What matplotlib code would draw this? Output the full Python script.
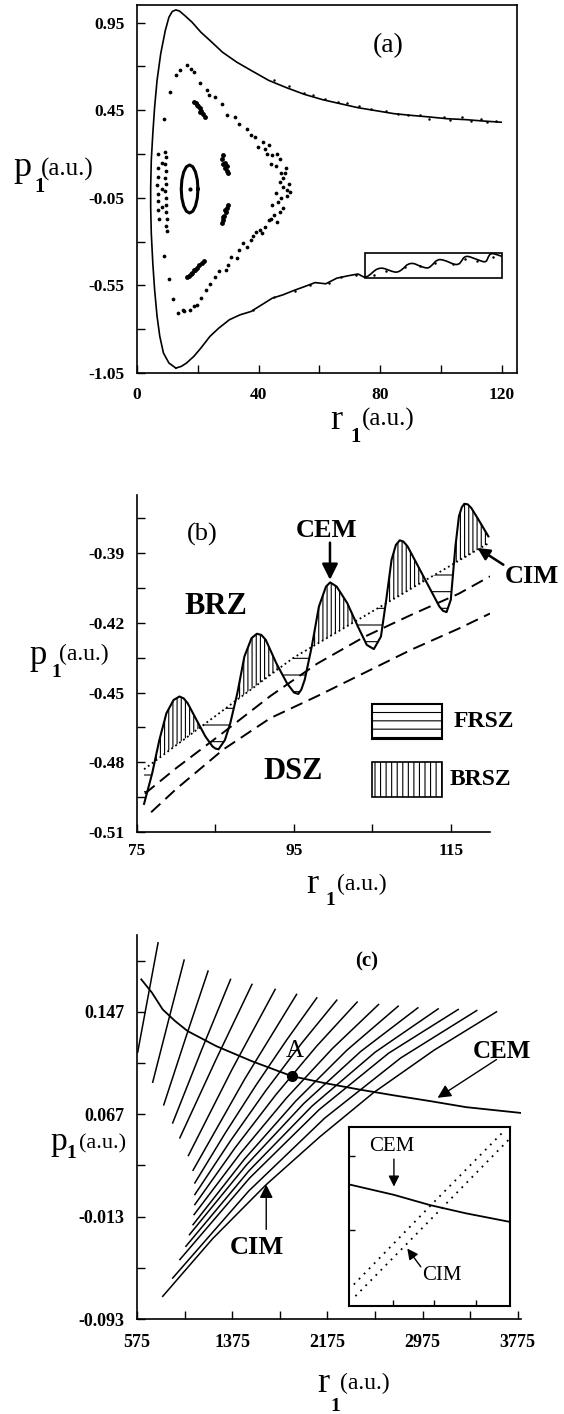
import numpy as np
import matplotlib
matplotlib.use('Agg')
import matplotlib.pyplot as plt
from matplotlib.patches import Rectangle

plt.rcParams['font.family'] = ['Liberation Serif', 'DejaVu Serif']
plt.rcParams['hatch.linewidth'] = 0.8

# ---------------- panel (a) ----------------
# outer separatrix: left side from bottom cusp up and over to the right end
a_up_r = [12.8, 10.5, 8.7, 7.5, 6.6, 5.8, 5.2, 4.7, 4.5, 4.5, 4.7, 5.2, 5.8, 6.6, 7.8, 9.3,
          10.5, 11.6, 12.8, 14.0, 15.7, 18.1, 21.0, 24.6, 28.1, 32.8, 37.5, 43.3, 49.2,
          55.1, 61.0, 66.8, 72.7, 78.6, 84.5, 90.3, 96.2, 102.1, 108.0, 113.8, 119.8]
a_up_p = [-1.022, -0.993, -0.936, -0.841, -0.727, -0.576, -0.424, -0.253, -0.101, 0.013,
          0.164, 0.316, 0.468, 0.620, 0.772, 0.904, 0.980, 1.013, 1.022, 1.015, 0.990,
          0.952, 0.895, 0.838, 0.781, 0.724, 0.677, 0.620, 0.578, 0.540, 0.510, 0.487,
          0.464, 0.447, 0.430, 0.420, 0.411, 0.401, 0.396, 0.388, 0.381]
# lower branch from the bottom cusp to the zoom box
a_low_r = [12.8, 14.6, 16.3, 18.7, 21.0, 24.0, 26.9, 30.4, 33.9, 37.5, 41.0, 44.5, 48.0,
           51.6, 55.1, 58.6, 62.1, 65.7, 69.2, 72.7, 74.8]
a_low_p = [-1.022, -1.012, -0.993, -0.955, -0.908, -0.841, -0.794, -0.746, -0.718, -0.699,
           -0.661, -0.623, -0.604, -0.579, -0.557, -0.534, -0.541, -0.509, -0.496, -0.485,
           -0.504]

# chaotic chain of points
a_chain_r = [16.3, 14.3, 12.8, 17.9, 18.9, 10.7, 20.7, 23.0, 23.7, 25.7, 28.1, 29.6, 32.2,
             33.4, 36.3, 37.5, 38.9, 39.8, 42.2, 42.8, 44.5, 44.0, 45.7, 47.5, 48.6, 46.9,
             49.2, 50.2, 48.1, 45.7, 46.3, 48.1, 44.5, 45.0, 43.4, 42.2, 40.4, 39.2, 37.5,
             36.3, 33.4, 32.8, 29.8, 29.3, 25.7, 22.8, 19.9, 18.7, 17.5, 15.5, 13.6, 12.0,
             10.5, 8.9, 8.9, 41.5, 43.5, 46.0, 47.0, 49.0, 48.0, 50.0, 47.5, 49.5, 47.0,
             44.0, 46.0, 41.0, 38.0, 35.0, 31.0, 27.0, 24.0, 21.0, 15.0]
a_chain_p = [0.709, 0.677, 0.648, 0.686, 0.667, 0.553, 0.605, 0.567, 0.538, 0.525, 0.483,
             0.420, 0.410, 0.373, 0.345, 0.307, 0.297, 0.240, 0.230, 0.199, 0.193, 0.145,
             0.130, 0.089, 0.089, 0.041, -0.006, -0.016, 0.013, -0.025, -0.073, -0.110,
             -0.092, -0.149, -0.177, -0.215, -0.234, -0.243, -0.291, -0.329, -0.348, -0.395,
             -0.433, -0.462, -0.500, -0.576, -0.661, -0.667, -0.690, -0.699, -0.708, -0.629,
             -0.515, -0.382, 0.402, 0.270, 0.250, 0.200, 0.170, 0.120, 0.060, 0.030, -0.050,
             -0.040, -0.130, -0.170, -0.190, -0.250, -0.270, -0.310, -0.390, -0.470, -0.540,
             -0.620, -0.690]
a_left_r = [6.8, 7.0, 6.9, 6.7, 6.9, 7.0, 6.8, 7.1, 9.1, 9.4, 9.2, 9.5, 9.3, 9.6, 9.2, 9.4,
            9.7, 9.5, 9.8, 9.6, 9.9, 8.2, 8.3, 8.1]
a_left_p = [0.20, 0.12, 0.07, 0.02, -0.03, -0.07, -0.12, -0.17, 0.21, 0.18, 0.14, 0.10, 0.06,
            0.03, -0.01, -0.05, -0.09, -0.13, -0.17, -0.21, -0.24, 0.15, 0.00, -0.10]
# small islands
a_isl_r = [18.7, 19.3, 20.0, 20.6, 21.2, 21.8, 22.4, 19.8, 20.8,
           28.3, 28.0, 28.4, 29.0, 29.6, 29.9, 29.0, 29.5,
           29.9, 29.6, 29.2, 28.7, 28.2, 27.8, 29.0, 28.4,
           16.4, 17.2, 18.0, 18.8, 19.6, 20.5, 21.4, 22.2, 17.6, 19.2]
a_isl_p = [0.497, 0.490, 0.475, 0.460, 0.445, 0.430, 0.410, 0.480, 0.440,
           0.195, 0.170, 0.145, 0.120, 0.100, 0.090, 0.150, 0.130,
           -0.090, -0.110, -0.130, -0.155, -0.175, -0.195, -0.120, -0.160,
           -0.500, -0.495, -0.480, -0.465, -0.450, -0.435, -0.420, -0.410, -0.485, -0.460]
# central elliptic orbit
a_ell_r = [20.05, 19.84, 19.24, 18.35, 17.30, 16.25, 15.36, 14.76, 14.55, 14.76, 15.36,
           16.25, 17.30, 18.35, 19.24, 19.84, 20.05]
a_ell_p = [0.000, 0.052, 0.097, 0.127, 0.137, 0.127, 0.097, 0.052, 0.000, -0.052, -0.097,
           -0.127, -0.137, -0.127, -0.097, -0.052, 0.000]
# scattered points along the separatrix
a_edge_r = [45, 50, 55, 58, 62, 66, 69, 73, 77, 82, 86, 89, 93, 96, 101, 103, 107, 110, 113,
            115, 118, 38, 45, 52, 57, 63, 67, 72, 78, 82, 88, 93, 98, 104, 108, 112, 117]
a_edge_p = [0.620, 0.585, 0.550, 0.535, 0.515, 0.497, 0.490, 0.475, 0.455, 0.445, 0.430,
            0.425, 0.420, 0.400, 0.410, 0.395, 0.410, 0.390, 0.400, 0.380, 0.390,
            -0.690, -0.615, -0.580, -0.545, -0.535, -0.505, -0.490, -0.490, -0.470, -0.445,
            -0.440, -0.425, -0.430, -0.400, -0.410, -0.390]

# ---------------- panel (b) ----------------
b_r = [75.90, 76.94, 77.85, 78.75, 79.66, 80.42, 80.95, 81.46, 82.59, 83.72, 84.63, 85.00,
       85.40, 86.21, 86.89, 87.79, 88.69, 89.60, 90.28, 90.85, 91.41, 92.76, 94.12, 95.02,
       95.56, 95.95, 96.38, 97.28, 98.19, 99.09, 99.63, 100.45, 101.80, 103.16, 104.29,
       105.19, 106.10, 106.77, 107.45, 108.00, 108.49, 108.95, 109.49, 110.84, 112.20,
       113.55, 114.00, 114.46, 115.00, 115.59, 116.04, 116.40, 116.72, 117.15, 117.62,
       118.53, 119.79]
b_cem = [-0.4979, -0.4847, -0.4704, -0.4589, -0.4532, -0.4517, -0.4525, -0.4546, -0.4618,
         -0.4689, -0.4732, -0.4741, -0.4744, -0.4704, -0.4632, -0.4503, -0.4345, -0.4266,
         -0.4247, -0.4252, -0.4273, -0.4374, -0.4460, -0.4500, -0.4506, -0.4487, -0.4445,
         -0.4302, -0.4130, -0.4044, -0.4026, -0.4044, -0.4115, -0.4216, -0.4295, -0.4313,
         -0.4259, -0.4101, -0.3929, -0.3865, -0.3845, -0.3850, -0.3871, -0.3957, -0.4044,
         -0.4130, -0.4148, -0.4154, -0.4101, -0.3871, -0.3742, -0.3703, -0.3688, -0.3690,
         -0.3706, -0.3756, -0.3828]
b_cim = [-0.4830, -0.4804, -0.4781, -0.4758, -0.4735, -0.4716, -0.4703, -0.4690, -0.4661,
         -0.4633, -0.4610, -0.4601, -0.4591, -0.4570, -0.4553, -0.4530, -0.4508, -0.4485,
         -0.4468, -0.4453, -0.4439, -0.4405, -0.4371, -0.4349, -0.4338, -0.4330, -0.4322,
         -0.4304, -0.4286, -0.4268, -0.4257, -0.4241, -0.4214, -0.4187, -0.4165, -0.4147,
         -0.4129, -0.4116, -0.4102, -0.4092, -0.4082, -0.4073, -0.4062, -0.4035, -0.4008,
         -0.3982, -0.3973, -0.3964, -0.3953, -0.3941, -0.3932, -0.3925, -0.3919, -0.3911,
         -0.3901, -0.3883, -0.3858]
b_dash1_r = [76.0, 80.0, 86.0, 92.0, 98.0, 104.0, 110.0, 116.0, 120.0]
b_dash1_p = [-0.4935, -0.4825, -0.4672, -0.4515, -0.4375, -0.4260, -0.4165, -0.4075, -0.4000]
b_dash2_r = [76.8, 80.0, 86.0, 92.0, 98.0, 104.0, 110.0, 116.0, 120.0]
b_dash2_p = [-0.5015, -0.4915, -0.4745, -0.4610, -0.4515, -0.4415, -0.4315, -0.4225, -0.4160]

# ---------------- panel (c) ----------------
c_lines = [
    ([581, 666.5, 752], [0.1155, 0.1582, 0.2009]),
    ([707, 839, 971], [0.0920, 0.1400, 0.1874]),
    ([800, 986, 1172], [0.0743, 0.1272, 0.1788]),
    ([875, 1118, 1361], [0.0602, 0.1172, 0.1723]),
    ([935, 1238, 1541], [0.0485, 0.1095, 0.1684]),
    ([1007, 1371.5, 1736], [0.0347, 0.1016, 0.1645]),
    ([1046, 1481, 1916], [0.0232, 0.0946, 0.1606]),
    ([1061, 1317.5, 1574, 1830.5, 2086], [0.0133, 0.0524, 0.0895, 0.1247, 0.1579]),
    ([1061, 1359.5, 1658, 1956.5, 2254], [0.0042, 0.0461, 0.0855, 0.1222, 0.1561]),
    ([1061, 1402, 1743.5, 2085, 2425], [-0.0036, 0.0411, 0.0824, 0.1202, 0.1546]),
    ([1055, 1442.75, 1830.5, 2218, 2605], [-0.0114, 0.0363, 0.0796, 0.1184, 0.1527]),
    ([1046, 1477, 1908.5, 2340, 2770], [-0.0193, 0.0318, 0.0772, 0.1171, 0.1514]),
    ([1016, 1496, 1976, 2456, 2935], [-0.0271, 0.0275, 0.0753, 0.1161, 0.1501]),
    ([986, 1516, 2046.5, 2577, 3106], [-0.0362, 0.0228, 0.0734, 0.1155, 0.1493]),
    ([935, 1520, 2105, 2690, 3274], [-0.0466, 0.0170, 0.0705, 0.1147, 0.1488]),
    ([875, 1514, 2153, 2792, 3430], [-0.0610, 0.0070, 0.0640, 0.1110, 0.1480]),
    ([791, 1211, 1661, 2111, 2561, 3071, 3596],
     [-0.0753, -0.0302, 0.0120, 0.0493, 0.0837, 0.1170, 0.1470]),
]
c_cem_r = [611, 701, 791, 896, 1001, 1241, 1541, 1877, 2141, 2441, 2741, 3041, 3341, 3800]
c_cem_p = [0.1723, 0.1619, 0.1488, 0.1397, 0.1319, 0.1202, 0.1084, 0.0967, 0.0915, 0.0863,
           0.0816, 0.0772, 0.0725, 0.0680]
c_point_a = (1877, 0.0967)
# inset (axes fractions)
ins_cem_x = [0.011, 0.279, 0.502, 0.725, 0.993]
ins_cem_y = [0.677, 0.621, 0.564, 0.518, 0.471]
ins_cim1_x = [0.030, 0.50, 0.971]
ins_cim1_y = [0.120, 0.555, 0.985]
ins_cim2_x = [0.040, 0.52, 0.993]
ins_cim2_y = [0.055, 0.495, 0.930]

W, H = 564, 1414
fig = plt.figure(figsize=(W / 100, H / 100), dpi=100)


def box(l, t, r, b):
    return [l / W, 1 - b / H, (r - l) / W, (b - t) / H]


def ftxt(px, py, s, **kw):
    fig.text(px / W, 1 - py / H, s, va='baseline', **kw)


def style(ax, xt, yt, xm, ym, xlab, ylab, size=12.5, xpad=9, full=False):
    ax.set_xticks(xt, labels=xlab, fontweight='bold', fontsize=size)
    ax.set_yticks(yt, labels=ylab, fontweight='bold', fontsize=size)
    ax.set_xticks(xm, minor=True)
    ax.set_yticks(ym, minor=True)
    ax.tick_params(which='both', direction='in', length=6, width=1)
    ax.tick_params(axis='x', pad=xpad)
    ax.tick_params(axis='y', pad=9)
    for s in ax.spines.values():
        s.set_linewidth(1.2)
    if not full:
        ax.spines['top'].set_visible(False)
        ax.spines['right'].set_visible(False)


# ---- (a)
ax = fig.add_axes(box(137, 5, 517, 373))
ax.plot(a_up_r, a_up_p, color='k', lw=1.2)
ax.plot(a_low_r + b_r, a_low_p + b_cem, color='k', lw=1.2)
ax.plot(a_ell_r, a_ell_p, color='k', lw=2.2)
ax.plot(a_chain_r, a_chain_p, 'o', color='k', ms=2.7, mew=0)
ax.plot(a_left_r, a_left_p, 'o', color='k', ms=2.7, mew=0)
ax.plot(a_isl_r, a_isl_p, 'o', color='k', ms=3.5, mew=0)
ax.plot([17.3], [0.0], 'o', color='k', ms=3, mew=0)
ax.plot(a_edge_r, a_edge_p, 'o', color='k', ms=1.8, mew=0)
ax.add_patch(Rectangle((75, -0.51), 45, 0.145, fill=False, lw=1.2, ec='k'))
ax.text(82.7, 0.82, '(a)', fontsize=20, ha='center', va='center')
ax.set_xlim(0, 125)
ax.set_ylim(-1.05, 1.05)
style(ax, [0, 40, 80, 120], [0.95, 0.45, -0.05, -0.55, -1.05], [20, 60, 100],
      [0.7, 0.2, -0.3, -0.8], ['0', '40', '80', '120'],
      ['0.95', '0.45', '-0.05', '-0.55', '-1.05'], xpad=10, full=True)
ftxt(13, 176, 'p', fontsize=26)
ftxt(34, 192, '1', fontsize=15, fontweight='bold')
ftxt(41, 176, '(a.u.)', fontsize=18)
ftxt(330, 429, 'r', fontsize=26)
ftxt(350, 442, '1', fontsize=15, fontweight='bold')
ftxt(362, 426, '(a.u.)', fontsize=18)

# ---- (b)
ax = fig.add_axes(box(137, 495, 490, 832))
ax.fill_between(b_r, b_cem, b_cim, where=[c > d for c, d in zip(b_cem, b_cim)],
                interpolate=True, facecolor='none', edgecolor='k', hatch='||||', lw=0)
ax.fill_between(b_r, b_cem, b_cim, where=[c < d for c, d in zip(b_cem, b_cim)],
                interpolate=True, facecolor='none', edgecolor='k', hatch='-', lw=0)
ax.plot(b_r, b_cem, color='k', lw=1.5)
ax.plot(b_r, b_cim, color='k', lw=1.3, ls=(0, (1, 1.7)))
ax.plot(b_dash1_r, b_dash1_p, color='k', lw=1.4, ls=(0, (6.5, 3.5)))
ax.plot(b_dash2_r, b_dash2_p, color='k', lw=1.4, ls=(0, (6.5, 3.5)))
ax.add_patch(Rectangle((105, -0.470), 8.9, 0.015, facecolor='none', ec='k', lw=1.5,
                       hatch='--'))
ax.add_patch(Rectangle((105, -0.4948), 8.9, 0.0151, facecolor='none', ec='k', lw=1.2,
                       hatch='|||'))
ax.text(115.4, -0.4625, 'FRSZ', fontsize=17, fontweight='bold', va='center')
ax.text(114.8, -0.4872, 'BRSZ', fontsize=17, fontweight='bold', va='center')
ax.text(83.3, -0.3821, '(b)', fontsize=19, ha='center', va='center')
ax.text(99.2, -0.3802, 'CEM', fontsize=19, fontweight='bold', ha='center', va='center')
ax.text(85.0, -0.4130, 'BRZ', fontsize=22, fontweight='bold', ha='center', va='center')
ax.text(94.9, -0.4840, 'DSZ', fontsize=22, fontweight='bold', ha='center', va='center')
ax.text(125.3, -0.4000, 'CIM', fontsize=19, fontweight='bold', ha='center', va='center')
ax.annotate('', xy=(99.6, -0.4015), xytext=(99.6, -0.3855),
            arrowprops=dict(arrowstyle='-|>', lw=1.8, color='k', mutation_scale=24,
                            shrinkA=0, shrinkB=0))
ax.annotate('', xy=(118.4, -0.3878), xytext=(121.7, -0.3950),
            arrowprops=dict(arrowstyle='-|>', lw=1.8, color='k', mutation_scale=18,
                            shrinkA=0, shrinkB=0))
ax.set_xlim(75, 120)
ax.set_ylim(-0.51, -0.365)
style(ax, [75, 95, 115], [-0.39, -0.42, -0.45, -0.48, -0.51], [85, 105],
      [-0.375, -0.405, -0.435, -0.465, -0.495], ['75', '95', '115'],
      ['-0.39', '-0.42', '-0.45', '-0.48', '-0.51'], xpad=8)
ftxt(30, 664, 'p', fontsize=25)
ftxt(51, 677, '1', fontsize=14, fontweight='bold')
ftxt(59, 660, '(a.u.)', fontsize=17)
ftxt(306, 893, 'r', fontsize=26)
ftxt(325, 905, '1', fontsize=14, fontweight='bold')
ftxt(337, 890, '(a.u.)', fontsize=17)

# ---- (c)
ax = fig.add_axes(box(137, 935, 521, 1319))
for xs, ys in c_lines:
    ax.plot(xs, ys, color='k', lw=1.1)
ax.plot(c_cem_r, c_cem_p, color='k', lw=1.3)
ax.plot([c_point_a[0]], [c_point_a[1]], 'o', color='k', ms=7)
ax.text(1900, 0.1163, 'A', fontsize=18, ha='center', va='center')
ax.text(2501, 0.1866, '(c)', fontsize=15, fontweight='bold', ha='center', va='center')
ax.text(3641, 0.1163, 'CEM', fontsize=18, fontweight='bold', ha='center', va='center')
ax.text(1586, -0.0375, 'CIM', fontsize=19, fontweight='bold', ha='center', va='center')
ax.annotate('', xy=(3101, 0.0798), xytext=(3596, 0.1097),
            arrowprops=dict(arrowstyle='-|>', lw=1.0, color='k', mutation_scale=20,
                            shrinkA=0, shrinkB=0))
ax.annotate('', xy=(1661, 0.0120), xytext=(1661, -0.0230),
            arrowprops=dict(arrowstyle='-|>', lw=1.0, color='k', mutation_scale=20,
                            shrinkA=0, shrinkB=0))
ax.set_xlim(575, 3802)
ax.set_ylim(-0.093, 0.207)
style(ax, [575, 1375, 2175, 2975, 3775], [0.147, 0.067, -0.013, -0.093],
      [975, 1775, 2575, 3375], [0.187, 0.107, 0.027, -0.053],
      ['575', '1375', '2175', '2975', '3775'], ['0.147', '0.067', '-0.013', '-0.093'],
      size=13, xpad=11)
ftxt(50, 1150, 'p', fontsize=24)
ftxt(66, 1158, '1', fontsize=14, fontweight='bold')
ftxt(79, 1148, '(a.u.)', fontsize=16)
ftxt(317, 1392, 'r', fontsize=26)
ftxt(330, 1411, '1', fontsize=14, fontweight='bold')
ftxt(340, 1389, '(a.u.)', fontsize=17)

# inset
ins = fig.add_axes(box(349, 1127, 510, 1306))
ins.plot(ins_cem_x, ins_cem_y, color='k', lw=1.3)
ins.plot(ins_cim1_x, ins_cim1_y, color='k', lw=1.3, ls=(0, (1, 3)))
ins.plot(ins_cim2_x, ins_cim2_y, color='k', lw=1.3, ls=(0, (1, 3)))
ins.text(0.268, 0.892, 'CEM', fontsize=15, ha='center', va='center')
ins.text(0.574, 0.172, 'CIM', fontsize=15, ha='center', va='center')
ins.annotate('', xy=(0.279, 0.667), xytext=(0.279, 0.821),
             arrowprops=dict(arrowstyle='-|>', lw=1.0, color='k', mutation_scale=16,
                             shrinkA=0, shrinkB=0))
ins.annotate('', xy=(0.362, 0.321), xytext=(0.446, 0.219),
             arrowprops=dict(arrowstyle='-|>', lw=1.0, color='k', mutation_scale=16,
                             shrinkA=0, shrinkB=0))
ins.set_xlim(0, 1)
ins.set_ylim(0, 1)
ins.set_xticks([0.272, 0.529, 0.786])
ins.set_yticks([0.424, 0.839])
ins.tick_params(direction='in', length=4, width=1, labelbottom=False, labelleft=False)
for s in ins.spines.values():
    s.set_linewidth(1.5)

fig.savefig('out.png', dpi=100)
